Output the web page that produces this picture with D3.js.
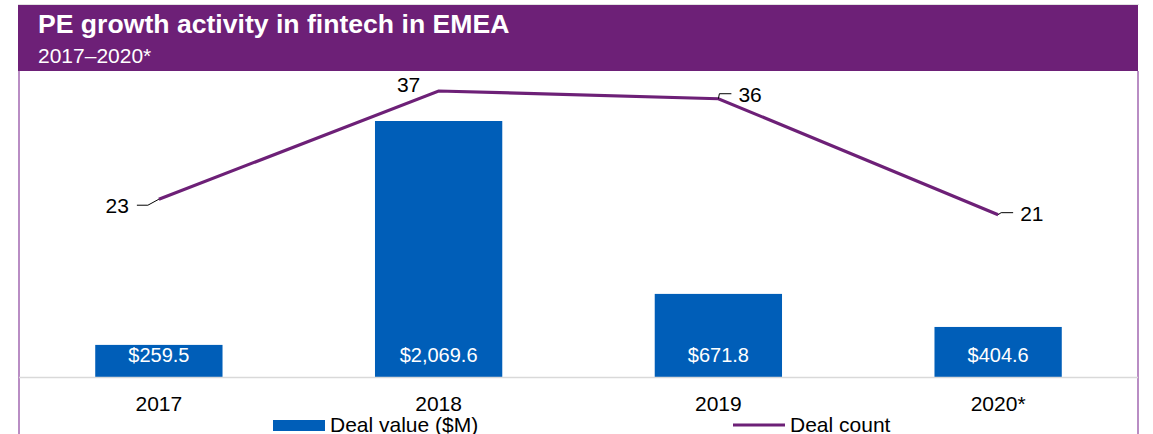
<!DOCTYPE html>
<html>
<head>
<meta charset="utf-8">
<script src="https://cdn.jsdelivr.net/npm/d3@7"></script>
<style>
  body { margin: 0; background: #fff; }
  svg { display: block; font-family: Arial, "Liberation Sans", sans-serif; }
</style>
</head>
<body>
<div id="chart"></div>
<script>
// chart data
const years = ["2017", "2018", "2019", "2020*"];
const dealValues = [259.5, 2069.6, 671.8, 404.6];
const dealCounts = [23, 37, 36, 21];
const valueLabels = ["$259.5", "$2,069.6", "$671.8", "$404.6"];

const width = 1153, height = 434;
const purple = "#6d2077", blue = "#005eb8";

const svg = d3.select("#chart").append("svg")
    .attr("width", width)
    .attr("height", height);

// frame: top grey rule, header band, side borders
svg.append("line")
    .attr("x1", 18).attr("x2", 1139).attr("y1", 4.5).attr("y2", 4.5)
    .attr("stroke", "#e2e2e2").attr("stroke-width", 1);
svg.append("rect")
    .attr("x", 18).attr("y", 5).attr("width", 1120).attr("height", 66)
    .attr("fill", purple);
svg.append("line")
    .attr("x1", 19).attr("x2", 19).attr("y1", 71).attr("y2", height)
    .attr("stroke", "#a267b0").attr("stroke-width", 1.5);
svg.append("line")
    .attr("x1", 1138).attr("x2", 1138).attr("y1", 71).attr("y2", height)
    .attr("stroke", "#a267b0").attr("stroke-width", 1.5);

svg.append("text")
    .attr("x", 38).attr("y", 33)
    .attr("fill", "#fff").attr("font-size", 26.6).attr("font-weight", "bold")
    .text("PE growth activity in fintech in EMEA");
svg.append("text")
    .attr("x", 38).attr("y", 63)
    .attr("fill", "#fff").attr("font-size", 21)
    .text("2017–2020*");

// scales
const x = d3.scaleBand()
    .domain(years)
    .range([19, 1138])
    .paddingInner(0.545)
    .paddingOuter(0.2725);

const yBar = d3.scaleLinear()
    .domain([0, 2069.6])
    .range([377, 121]);

const yLine = d3.scaleLinear()
    .domain([0, 37])
    .range([377, 91]);

// bars
svg.append("g")
    .selectAll("rect")
    .data(dealValues)
    .enter().append("rect")
    .attr("x", (d, i) => x(years[i]))
    .attr("y", d => yBar(d))
    .attr("width", x.bandwidth())
    .attr("height", d => yBar(0) - yBar(d))
    .attr("fill", blue);

// baseline
svg.append("line")
    .attr("x1", 19).attr("x2", 1138).attr("y1", 377.5).attr("y2", 377.5)
    .attr("stroke", "#d9d9d9").attr("stroke-width", 1.5);

// bar labels
svg.append("g")
    .selectAll("text")
    .data(valueLabels)
    .enter().append("text")
    .attr("x", (d, i) => x(years[i]) + x.bandwidth() / 2)
    .attr("y", 362)
    .attr("text-anchor", "middle")
    .attr("fill", "#fff")
    .attr("font-size", 20)
    .text(d => d);

// x axis labels
const xAxis = svg.append("g")
    .attr("transform", "translate(0,377)")
    .call(d3.axisBottom(x).tickSize(0));
xAxis.select(".domain").remove();
xAxis.selectAll("text")
    .attr("y", 34)
    .attr("dy", 0)
    .attr("font-size", 21)
    .attr("fill", "#000")
    .attr("font-family", "Arial, 'Liberation Sans', sans-serif");

// deal count line
const cx = i => x(years[i]) + x.bandwidth() / 2;
const line = d3.line()
    .x((d, i) => cx(i))
    .y(d => yLine(d));

svg.append("path")
    .datum(dealCounts)
    .attr("d", line)
    .attr("fill", "none")
    .attr("stroke", purple)
    .attr("stroke-width", 3.2);

// line labels with small leader lines
const leaders = [
    { dx: -22, dy: 6, anchor: "end" },
    null,
    { dx: 13, dy: -5, anchor: "start" },
    { dx: 15, dy: -2, anchor: "start" }
];
const labelG = svg.append("g");
dealCounts.forEach((v, i) => {
    const px = cx(i), py = yLine(v);
    const l = leaders[i];
    if (!l) {
        labelG.append("text")
            .attr("x", px - 30).attr("y", py + 1)
            .attr("text-anchor", "middle")
            .attr("font-size", 21)
            .text(v);
        return;
    }
    const ex = px + l.dx, ey = py + l.dy;
    const hx = l.anchor === "end" ? ex + 11 : ex - 12;
    labelG.append("path")
        .attr("d", `M${px},${py}L${hx},${ey}L${ex},${ey}`)
        .attr("fill", "none")
        .attr("stroke", "#000")
        .attr("stroke-width", 1);
    labelG.append("text")
        .attr("x", l.anchor === "end" ? ex - 8 : ex + 7)
        .attr("y", ey + 8)
        .attr("text-anchor", l.anchor)
        .attr("font-size", 21)
        .text(v);
});

// legend
const legend = svg.append("g");
legend.append("rect")
    .attr("x", 273).attr("y", 420).attr("width", 52).attr("height", 11)
    .attr("fill", blue);
legend.append("text")
    .attr("x", 330).attr("y", 432)
    .attr("font-size", 21)
    .text("Deal value ($M)");
legend.append("line")
    .attr("x1", 733).attr("x2", 785).attr("y1", 425).attr("y2", 425)
    .attr("stroke", purple).attr("stroke-width", 3.2);
legend.append("text")
    .attr("x", 790).attr("y", 432)
    .attr("font-size", 21)
    .text("Deal count");
</script>
</body>
</html>
